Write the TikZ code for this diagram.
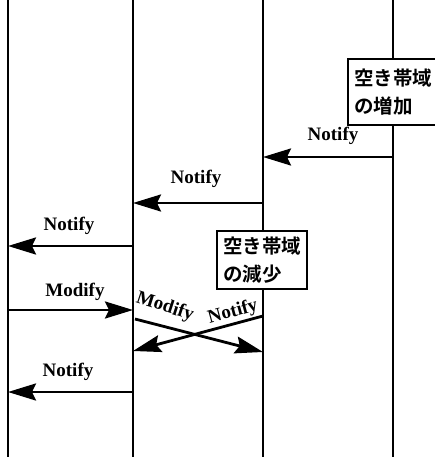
\documentclass[tikz,border=0pt]{standalone}
\usepackage{fontspec}
\setmainfont{Liberation Serif}
\newfontfamily\jp{Noto Sans CJK JP}[BoldFont={Noto Sans CJK JP Bold}]
\usetikzlibrary{arrows.meta}
\begin{document}
\begin{tikzpicture}[x=1pt,y=-1pt,
  life/.style={line width=2.2pt},
  msg/.style={line width=2.8pt,-{Stealth[length=28pt,width=17pt,inset=4pt]}},
  lbl/.style={font=\fontsize{19}{19}\selectfont\bfseries, inner sep=0pt},
  evt/.style={draw, line width=2pt, fill=white, align=left, inner xsep=6pt, inner ysep=7pt,
    font=\jp\bfseries\fontsize{19.5}{28}\selectfont}]
\useasboundingbox (0,0) rectangle (435,457);
% lifelines
\foreach \n/\x in {A/8,B/133,C/263,D/393}{
  \coordinate (\n top) at (\x,0);
  \coordinate (\n bot) at (\x,457);
  \draw[life] (\n top) -- (\n bot);
}
% event boxes
\node[evt, anchor=north west, inner ysep=10pt] (e1) at (347,58) {空き帯域\\の増加};
\node[evt, anchor=north west, inner ysep=6pt] (e2) at (216,230) {空き帯域\\の減少};
% message endpoints
\coordinate (n1s) at (393,157); \coordinate (n1e) at (263,157);
\coordinate (n2s) at (263,203); \coordinate (n2e) at (133,203);
\coordinate (n3s) at (133,246); \coordinate (n3e) at (8,246);
\coordinate (m1s) at (8,310);   \coordinate (m1e) at (133,310);
\coordinate (m2s) at (135,319); \coordinate (m2e) at (263,352);
\coordinate (n5s) at (263,316); \coordinate (n5e) at (133,351);
\coordinate (n6s) at (133,392); \coordinate (n6e) at (8,392);
\draw[msg] (n1s) -- (n1e);
\draw[msg] (n2s) -- (n2e);
\draw[msg] (n3s) -- (n3e);
\draw[msg] (m1s) -- (m1e);
\draw[msg] (m2s) -- (m2e);
\draw[msg] (n5s) -- (n5e);
\draw[msg] (n6s) -- (n6e);
% labels
\node[lbl] (l1) at (333,136) {Notify};
\node[lbl] (l2) at (196,179) {Notify};
\node[lbl] (l3) at (69,226) {Notify};
\node[lbl] (l4) at (75,292) {Modify};
\node[lbl, rotate=-18] (l5) at (165,307) {Modify};
\node[lbl, rotate=15] (l6) at (233,312) {Notify};
\node[lbl] (l7) at (68,372) {Notify};
\end{tikzpicture}
\end{document}
